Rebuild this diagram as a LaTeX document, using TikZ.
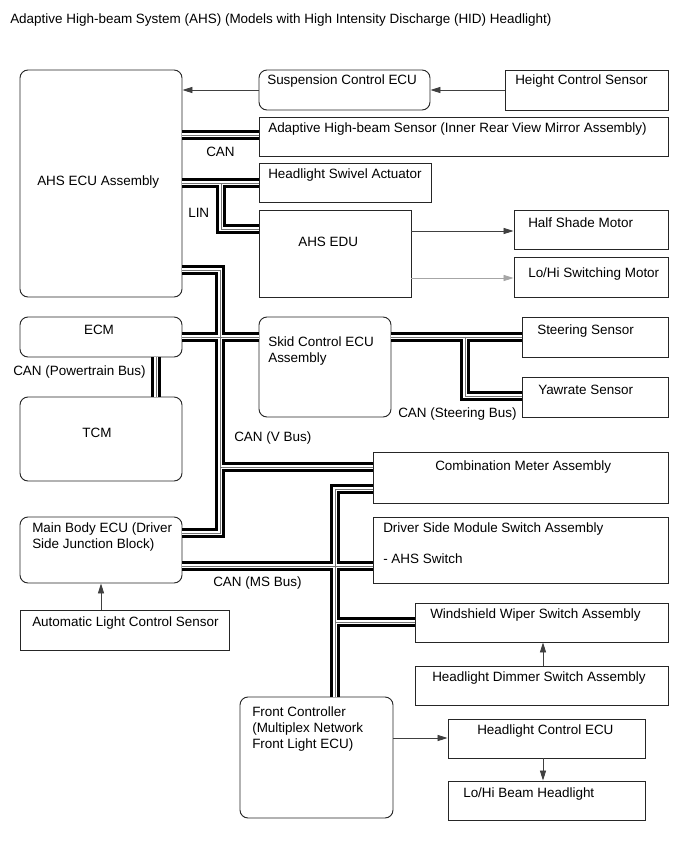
\documentclass[tikz,border=0pt]{standalone}
\usepackage{fontspec}
\setmainfont{Liberation Sans}
\usetikzlibrary{arrows.meta,fit}
\begin{document}
\begin{tikzpicture}[x=0.75pt,y=-0.75pt,
  font=\fontsize{10.1}{12.4}\selectfont,
  bx/.style={draw=black!85,line width=0.7pt,inner sep=0pt},
  rbx/.style={bx,rounded corners=6pt},
  lbl/.style={inner sep=0pt,anchor=base west},
  clbl/.style={inner sep=0pt,anchor=base},
  busA/.style={draw=black,line width=6.8pt,line join=miter},
  busB/.style={draw=white,line width=3.6pt,line join=miter},
  busC/.style={draw=black!55,line width=0.4pt,line join=miter},
  arr/.style={draw=black!75,line width=0.6pt,-{Triangle[length=7.5pt,width=4.6pt]}},
  arrg/.style={arr,draw=black!35}]
\useasboundingbox (0,0) rectangle (689,854);
\fill[white] (0,0) rectangle (689,854);

\node[lbl] (title) at (10,23.5) {Adaptive High-beam System (AHS) (Models with High Intensity Discharge (HID) Headlight)};

% boxes
\node[rbx, fit={(20,70) (182,297)}] (ahs) {};
\node[rbx, fit={(259,70) (430,110)}] (susp) {};
\node[bx, fit={(505,70) (668,110)}] (hcs) {};
\node[bx, fit={(259,117) (668,156)}] (ahsens) {};
\node[bx, fit={(259,163) (431,202)}] (swivel) {};
\node[bx, fit={(259,210) (411,297)}] (edu) {};
\node[bx, fit={(514,210) (668,249)}] (half) {};
\node[bx, fit={(514,257) (668,297)}] (lohim) {};
\node[rbx, fit={(20,317) (182,357)}] (ecm) {};
\node[rbx, fit={(20,397) (182,481)}] (tcm) {};
\node[rbx, fit={(259,317) (391,417)}] (skid) {};
\node[bx, fit={(522,317) (668,357)}] (steer) {};
\node[bx, fit={(522,377) (668,417)}] (yaw) {};
\node[bx, fit={(373,452) (668,503)}] (comb) {};
\node[rbx, fit={(20,517) (182,583)}] (mbecu) {};
\node[bx, fit={(373,517) (668,583)}] (dsm) {};
\node[bx, fit={(20,610) (229,650)}] (alcs) {};
\node[bx, fit={(415,603) (668,642)}] (wiper) {};
\node[bx, fit={(415,666) (668,705)}] (dimmer) {};
\node[rbx, fit={(240,697) (393,818)}] (front) {};
\node[bx, fit={(448,719) (645,758)}] (hce) {};
\node[bx, fit={(448,781) (645,820)}] (lohib) {};

% texts
\node[lbl] (t-ahs) at (37,185.5) {AHS ECU Assembly};
\node[lbl] (t-susp) at (267,84.5) {Suspension Control ECU};
\node[lbl] (t-hcs) at (515,84.5) {Height Control Sensor};
\node[lbl] (t-ahsens) at (268,132.5) {Adaptive High-beam Sensor (Inner Rear View Mirror Assembly)};
\node[lbl] (t-can1) at (206,156.5) {CAN};
\node[lbl] (t-swivel) at (268,178.5) {Headlight Swivel Actuator};
\node[lbl] (t-lin) at (188,217.5) {LIN};
\node[lbl] (t-edu) at (298,246.5) {AHS EDU};
\node[lbl] (t-half) at (528,227) {Half Shade Motor};
\node[lbl] (t-lohim) at (528,277.5) {Lo/Hi Switching Motor};
\node[clbl] (t-ecm) at (99,334.5) {ECM};
\node[lbl] (t-pt) at (13,375.5) {CAN (Powertrain Bus)};
\node[clbl] (t-tcm) at (97,437.5) {TCM};
\node[lbl] (t-skid1) at (268,346.5) {Skid Control ECU};
\node[lbl] (t-skid2) at (268,362.5) {Assembly};
\node[lbl] (t-steer) at (537,334.5) {Steering Sensor};
\node[lbl] (t-yaw) at (538,394.5) {Yawrate Sensor};
\node[lbl] (t-sb) at (398,417.5) {CAN (Steering Bus)};
\node[lbl] (t-vb) at (234,441.5) {CAN (V Bus)};
\node[lbl] (t-comb) at (435,470.5) {Combination Meter Assembly};
\node[lbl] (t-mb1) at (32,532) {Main Body ECU (Driver};
\node[lbl] (t-mb2) at (32,548) {Side Junction Block)};
\node[lbl] (t-dsm1) at (383,532.5) {Driver Side Module Switch Assembly};
\node[lbl] (t-dsm2) at (383,563.5) {- AHS Switch};
\node[lbl] (t-ms) at (213,586.5) {CAN (MS Bus)};
\node[lbl] (t-alcs) at (32,626.5) {Automatic Light Control Sensor};
\node[lbl] (t-wiper) at (430,618.5) {Windshield Wiper Switch Assembly};
\node[lbl] (t-dimmer) at (432,681.5) {Headlight Dimmer Switch Assembly};
\node[lbl] (t-fc1) at (252,716.5) {Front Controller};
\node[lbl] (t-fc2) at (252,732.5) {(Multiplex Network};
\node[lbl] (t-fc3) at (252,748.5) {Front Light ECU)};
\node[lbl] (t-hce) at (477,734.5) {Headlight Control ECU};
\node[lbl] (t-lohib) at (463,797.5) {Lo/Hi Beam Headlight};

% buses
\foreach \st in {busA,busB,busC}{
  % CAN to sensor
  \draw[\st] (ahs.east |- 0,135) -- (ahsens.west |- 0,135);
  % LIN
  \draw[\st] (ahs.east |- 0,183) -- (swivel.west |- 0,183);
  \draw[\st] (221,183) -- (221,229) -- (edu.west |- 0,229);
  % V bus
  \draw[\st] (ahs.east |- 0,270) -- (220,270) -- (220,533) -- (mbecu.east |- 0,533);
  \draw[\st] (ecm.east |- 0,337) -- (skid.west |- 0,337);
  \draw[\st] (220,467) -- (comb.west |- 0,467);
  % Powertrain
  \draw[\st] (ecm.south -| 156,0) -- (tcm.north -| 156,0);
  % Steering bus
  \draw[\st] (skid.east |- 0,337) -- (steer.west |- 0,337);
  \draw[\st] (465,337) -- (465,396) -- (yaw.west |- 0,396);
  % MS bus
  \draw[\st] (mbecu.east |- 0,566) -- (dsm.west |- 0,566);
  \draw[\st] (comb.west |- 0,489) -- (335,489) -- (front.north -| 335,0);
  \draw[\st] (335,622) -- (wiper.west |- 0,622);
}

% arrows
\draw[arr] (hcs.west |- 0,90) -- (susp.east |- 0,90);
\draw[arr] (susp.west |- 0,90) -- (ahs.east |- 0,90);
\draw[arr] (edu.east |- 0,231) -- (half.west |- 0,231);
\draw[arrg] (edu.east |- 0,278) -- (lohim.west |- 0,278);
\draw[arr] (alcs.north -| 101,0) -- (mbecu.south -| 101,0);
\draw[arr] (dimmer.north -| 543,0) -- (wiper.south -| 543,0);
\draw[arr] (front.east |- 0,738) -- (hce.west |- 0,738);
\draw[arr] (hce.south -| 543,0) -- (lohib.north -| 543,0);
\end{tikzpicture}
\end{document}
